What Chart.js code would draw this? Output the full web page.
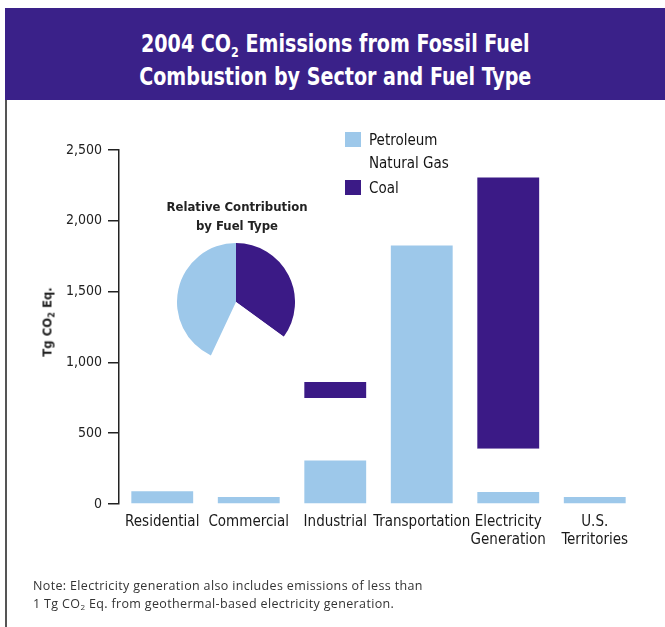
<!DOCTYPE html>
<html>
<head>
<meta charset="utf-8">
<script src="https://cdn.jsdelivr.net/npm/chart.js@4/dist/chart.umd.min.js"></script>
<style>
  html, body { margin:0; padding:0; background:#ffffff; }
  body { width:665px; height:627px; position:relative; overflow:hidden; }
  #bars { position:absolute; left:0; top:0; }
  #pie { position:absolute; left:177px; top:243px; }
  .hdr { position:absolute; left:5px; top:8px; width:660px; height:92px; background:#3a2189; }
  .ttl { position:absolute; left:5px; top:29px; width:660px; text-align:center; color:#fff;
         font-family:'DejaVu Sans Condensed','DejaVu Sans',sans-serif; font-weight:bold;
         font-size:24px; line-height:30px; transform:scaleX(0.885); transform-origin:332px 0; }
  .ttl .sb { font-size:14px; position:relative; top:5px; }
  .lborder { position:absolute; left:5px; top:100px; width:2px; height:527px; background:#555; }
  .lg { position:absolute; left:369px; font-family:'DejaVu Sans Condensed','DejaVu Sans',sans-serif;
        font-size:15px; line-height:20px; color:#151515; }
  .sw { position:absolute; left:345px; width:16px; height:15px; }
  .pt { position:absolute; left:137px; top:197px; width:200px; text-align:center;
        font-family:'DejaVu Sans Condensed','DejaVu Sans',sans-serif; font-weight:bold; font-size:13px;
        line-height:19px; color:#222; }
  .yt { position:absolute; left:47px; top:322px; transform:translate(-50%,-50%) rotate(-90deg);
        white-space:nowrap; font-family:'DejaVu Sans Condensed','DejaVu Sans',sans-serif; font-weight:bold;
        font-size:13px; color:#222; }
  .yt .sb { font-size:9px; position:relative; top:3px; }
  .note { position:absolute; left:33px; top:577px; font-family:'Open Sans',sans-serif; font-size:12.5px;
          letter-spacing:0.35px; line-height:17.6px; color:#333; }
</style>
</head>
<body>
<div class="hdr"></div>
<div class="ttl">2004 CO<span class="sb">2</span> Emissions from Fossil Fuel<br>Combustion by Sector and Fuel Type</div>
<div class="lborder"></div>
<canvas id="bars" width="665" height="627"></canvas>
<canvas id="pie" width="118" height="118"></canvas>
<div class="sw" id="sw0" style="top:132px;"></div>
<div class="lg" style="top:130px;">Petroleum</div>
<div class="sw" id="sw1" style="top:155px;"></div>
<div class="lg" style="top:153px;">Natural Gas</div>
<div class="sw" id="sw2" style="top:180px;"></div>
<div class="lg" style="top:178px;">Coal</div>
<div class="pt">Relative Contribution<br>by Fuel Type</div>
<div class="yt">Tg CO<span class="sb">2</span> Eq.</div>
<div class="note">Note: Electricity generation also includes emissions of less than<br>1 Tg CO<sub style="font-size:8px;vertical-align:-2px;line-height:0">2</sub> Eq. from geothermal-based electricity generation.</div>
<script>
// ---- data ----
const sectors = [["Residential"], ["Commercial"], ["Industrial"], ["Transportation"], ["Electricity", "Generation"], ["U.S.", "Territories"]];
const petroleum = [90, 50, 307, 1825, 85, 50];
const naturalGas = [0, 0, 442, 0, 305, 0];
const coal = [0, 0, 113, 0, 1915, 0];
const yTicks = [0, 500, 1000, 1500, 2000, 2500];
const fuelTypes = ["Petroleum", "Natural Gas", "Coal"];
const pieLabels = ["Coal", "Natural Gas", "Petroleum"];
const pieShares = [35, 22, 43];

// ---- styles ----
const fuelColors = { "Petroleum": "#9dc8ea", "Natural Gas": "#ffffff", "Coal": "#3b1a86" };
document.getElementById('sw0').style.background = fuelColors["Petroleum"];
document.getElementById('sw1').style.background = fuelColors["Natural Gas"];
document.getElementById('sw2').style.background = fuelColors["Coal"];

const tickFont = { family: "'DejaVu Sans Condensed', 'DejaVu Sans', sans-serif", size: 15 };

new Chart(document.getElementById('bars'), {
  type: 'bar',
  data: {
    labels: sectors,
    datasets: [
      { label: fuelTypes[0], data: petroleum, backgroundColor: fuelColors["Petroleum"] },
      { label: fuelTypes[1], data: naturalGas, backgroundColor: fuelColors["Natural Gas"] },
      { label: fuelTypes[2], data: coal, backgroundColor: fuelColors["Coal"] }
    ]
  },
  options: {
    responsive: false,
    animation: false,
    devicePixelRatio: 1,
    layout: { padding: { top: 150, right: 27, bottom: 0, left: 0 } },
    datasets: { bar: { barPercentage: 0.715, categoryPercentage: 1, borderWidth: 0 } },
    plugins: { legend: { display: false }, tooltip: { enabled: false } },
    scales: {
      x: {
        stacked: true,
        grid: { display: false, drawTicks: false },
        border: { display: false },
        ticks: { font: tickFont, color: '#1a1a1a', padding: 9, maxRotation: 0, autoSkip: false },
        afterFit: s => { s.height = 123; }
      },
      y: {
        stacked: true,
        min: 0, max: 2500,
        afterBuildTicks: s => { s.ticks = yTicks.map(v => ({ value: v })); },
        grid: { drawOnChartArea: false, drawTicks: true, tickLength: 11, color: '#222', lineWidth: 1.5 },
        border: { display: true, color: '#222', width: 1.5 },
        ticks: { font: { family: tickFont.family, size: 14 }, color: '#222', padding: 6 },
        afterFit: s => { s.width = 119; }
      }
    }
  }
});

new Chart(document.getElementById('pie'), {
  type: 'pie',
  data: {
    labels: pieLabels,
    datasets: [{
      data: pieShares,
      backgroundColor: pieLabels.map(l => fuelColors[l]),
      borderWidth: 0
    }]
  },
  options: {
    responsive: false,
    animation: false,
    devicePixelRatio: 1,
    layout: { padding: 0 },
    plugins: { legend: { display: false }, tooltip: { enabled: false } }
  }
});
</script>
</body>
</html>
